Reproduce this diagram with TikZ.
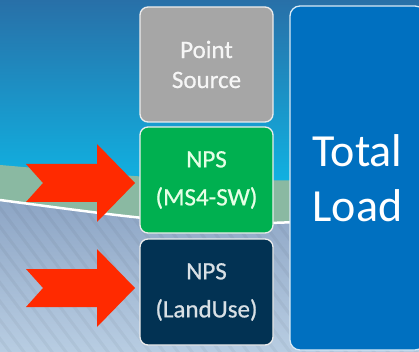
\documentclass[tikz,border=0pt]{standalone}
\usepackage{fontspec}
\setmainfont{Carlito}
\newfontfamily\boxfont[BoldFont=Carlito,BoldFeatures={FakeBold=0.7}]{Carlito}
\definecolor{skytop}{HTML}{2870A8}
\definecolor{skylow}{HTML}{10B2E2}
\definecolor{band}{HTML}{8AB9A2}
\definecolor{groundtop}{HTML}{8DA5C5}
\definecolor{groundlow}{HTML}{B8CDE2}
\definecolor{psgray}{HTML}{A6A6A6}
\definecolor{npsgreen}{HTML}{00B050}
\definecolor{npsnavy}{HTML}{023253}
\definecolor{loadblue}{HTML}{0070C0}
\definecolor{arrowred}{HTML}{FF2A00}
\tikzset{
  srcbox/.style={draw=white!85!gray,line width=1.3pt,rounded corners=8pt,
    minimum width=133pt,minimum height=106pt,align=center,inner sep=0pt,
    font=\boxfont\bfseries\fontsize{25}{30}\selectfont},
  redarrow/.style={fill=arrowred,draw=none}
}
\begin{document}
\begin{tikzpicture}[x=1pt,y=-1pt]
\useasboundingbox (0,0) rectangle (419,352);
\clip (0,0) rectangle (419,352);
% Sky
\shade[top color=skytop,bottom color=skylow] (0,0) rectangle (419,185);
% Band
\fill[band] (0,165) .. controls (210,183) .. (419,177) -- (419,352) -- (0,352) -- cycle;
% Ground with stripes
\shade[top color=groundtop,bottom color=groundlow] (0,200) .. controls (210,228) .. (419,215) -- (419,352) -- (0,352) -- cycle;
\begin{scope}
\clip (0,200) .. controls (210,228) .. (419,215) -- (419,352) -- (0,352) -- cycle;
\foreach \s in {-300,-286,...,420}
  \draw[black,opacity=0.04,line width=3pt] (\s,200) -- (\s+120,360);
\end{scope}
\draw[white,line width=2.5pt] (0,200) .. controls (210,228) .. (419,215);
% Boxes
\node[srcbox,fill=psgray,text=white!93!gray,minimum height=115pt] (ps) at (206.5,64.5) {Point\\Source};
\node[srcbox,fill=npsgreen,text=white!90!green] (ms4) at (206.5,180) {NPS\\[8pt](MS4-SW)};
\node[srcbox,fill=npsnavy,text=white!85!npsnavy] (land) at (206.5,292) {NPS\\[8pt](LandUse)};
\node[draw=white!85!loadblue,line width=1.3pt,rounded corners=10pt,fill=loadblue,
  minimum width=135pt,minimum height=344pt,align=center,text=white,
  font=\fontsize{46}{55}\selectfont] (total) at (357.5,178) {Total\\Load};
% Arrows
\coordinate (tipA) at (135,183);
\coordinate (tipB) at (135,288);
\foreach \t in {tipA,tipB}
  \fill[redarrow,shift={(\t)}] (0,0) -- (-38,-39) -- (-38,-19) -- (-109,-19) -- (-92,0)
    -- (-109,19) -- (-38,19) -- (-38,39) -- cycle;
\end{tikzpicture}
\end{document}
